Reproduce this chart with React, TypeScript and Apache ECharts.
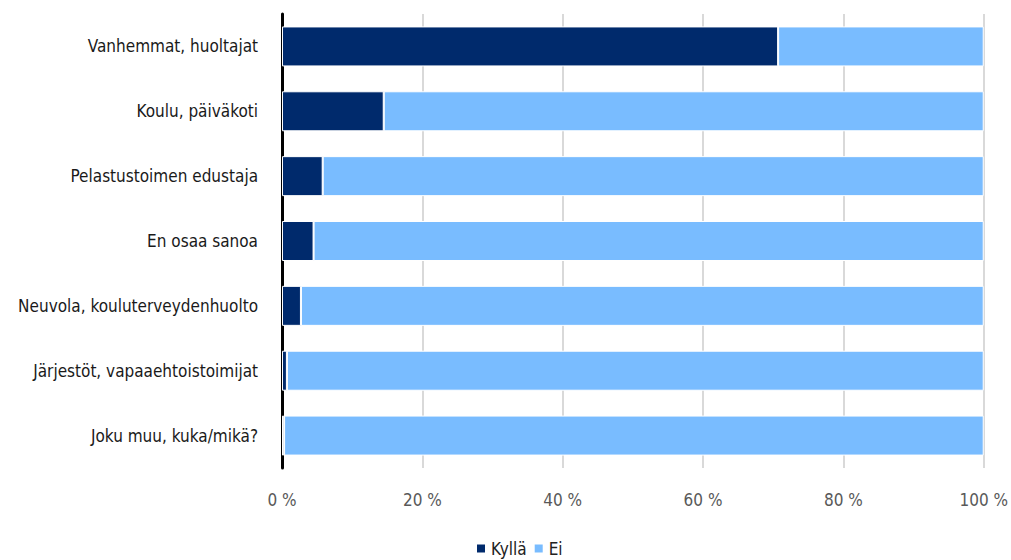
import React, { useEffect, useRef } from "react";
import * as echarts from "echarts";

const categories = [
  "Vanhemmat, huoltajat",
  "Koulu, päiväkoti",
  "Pelastustoimen edustaja",
  "En osaa sanoa",
  "Neuvola, kouluterveydenhuolto",
  "Järjestöt, vapaaehtoistoimijat",
  "Joku muu, kuka/mikä?",
];
const kyllaValues = [70.7, 14.5, 5.8, 4.5, 2.7, 0.7, 0.3];
const eiValues = kyllaValues.map((v) => +(100 - v).toFixed(1));
const tickValues = [0, 20, 40, 60, 80, 100];

const FONT = "'Liberation Sans Narrow', 'DejaVu Sans Condensed', 'Roboto', sans-serif";

export default function App() {
  const ref = useRef<HTMLDivElement>(null);
  useEffect(() => {
    const chart = echarts.init(ref.current!, null, { renderer: "svg" });
    chart.setOption({
      animation: false,
      textStyle: { fontFamily: FONT },
      grid: { left: 282, right: 26, top: 14, bottom: 92, containLabel: false },
      legend: {
        data: ["Kyllä", "Ei"],
        bottom: -2,
        left: 470,
        itemWidth: 10,
        itemHeight: 10,
        itemGap: 6,
        icon: "rect",
        textStyle: { fontFamily: FONT, fontSize: 17, color: "#222" },
      },
      xAxis: {
        type: "value",
        min: 0,
        max: 100,
        interval: 20,
        axisLine: { show: false },
        axisTick: { show: false },
        splitLine: { show: true, lineStyle: { color: "#d9d9d9", width: 2 } },
        axisLabel: {
          fontFamily: FONT,
          fontSize: 17,
          color: "#595959",
          margin: 23,
          formatter: (v: number) => (tickValues.includes(v) ? `${v} %` : ""),
        },
      },
      yAxis: {
        type: "category",
        inverse: true,
        data: categories,
        axisLine: { show: true, onZero: false, lineStyle: { color: "#000", width: 3 } },
        axisTick: { show: false },
        axisLabel: { fontFamily: FONT, fontSize: 17, color: "#1a1a1a", margin: 24 },
      },
      series: [
        {
          name: "Kyllä",
          type: "bar",
          stack: "a",
          barWidth: 40,
          data: kyllaValues,
          itemStyle: { color: "#002a6c", borderColor: "#fff", borderWidth: 1 },
          z: 1,
        },
        {
          name: "Ei",
          type: "bar",
          stack: "a",
          barWidth: 40,
          data: eiValues,
          itemStyle: { color: "#79bcff", borderColor: "#fff", borderWidth: 1 },
          z: 1,
        },
      ],
    });
    return () => chart.dispose();
  }, []);
  return <div ref={ref} style={{ width: 1011, height: 560, position: "absolute", left: 0, top: 0 }} />;
}
